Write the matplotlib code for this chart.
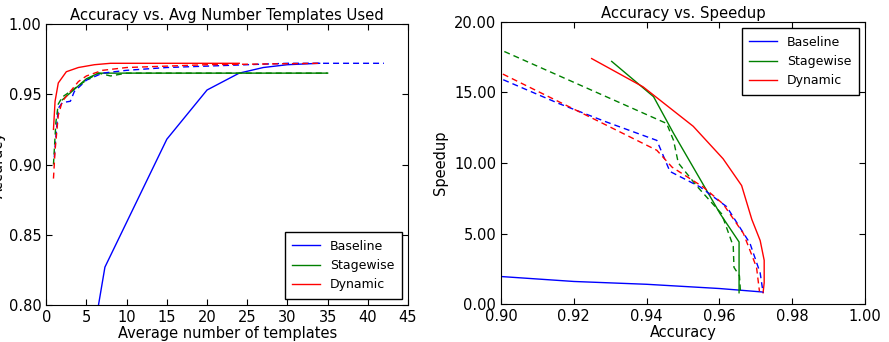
import matplotlib
matplotlib.use("Agg")
import matplotlib.pyplot as plt
from matplotlib.ticker import FormatStrFormatter, MultipleLocator

# Linke Grafik: Genauigkeit gegen Anzahl Templates
base_x = [6.5, 7.3, 15, 20, 24, 27, 30, 34]
base_y = [0.800, 0.827, 0.918, 0.953, 0.965, 0.969, 0.971, 0.972]
base_dx = [1.0, 1.2, 1.5, 2, 3, 3.5, 5, 7, 10, 15, 20, 30, 42]
base_dy = [0.905, 0.920, 0.940, 0.944, 0.945, 0.952, 0.960, 0.965, 0.967, 0.969, 0.970, 0.972, 0.972]
stage_x = [2, 3, 4, 5, 6.5, 35]
stage_y = [0.946, 0.951, 0.956, 0.961, 0.965, 0.965]
stage_dx = [0.9, 1.2, 1.5, 2, 3, 5, 6.5, 8, 10, 35]
stage_dy = [0.900, 0.930, 0.943, 0.948, 0.952, 0.960, 0.965, 0.963, 0.965, 0.965]
dyn_x = [0.9, 1.1, 1.5, 2.5, 4, 6, 8, 24]
dyn_y = [0.925, 0.945, 0.958, 0.966, 0.969, 0.971, 0.972, 0.972]
dyn_dx = [0.9, 1.1, 1.5, 2, 3, 4, 5, 7, 10, 20, 34]
dyn_dy = [0.890, 0.910, 0.935, 0.945, 0.952, 0.959, 0.963, 0.967, 0.969, 0.971, 0.972]

# Rechte Grafik: Speedup gegen Genauigkeit
sp_base_acc = [0.900, 0.920, 0.940, 0.960, 0.972]
sp_base = [1.95, 1.6, 1.4, 1.1, 0.85]
sp_base_dacc = [0.9006, 0.916, 0.929, 0.9428, 0.9464, 0.9547, 0.962, 0.9684, 0.9712, 0.972]
sp_base_d = [15.9, 14.2, 12.9, 11.6, 9.4, 8.3, 6.9, 4.3, 2.2, 0.8]
sp_stage_acc = [0.9304, 0.9419, 0.9474, 0.9602, 0.9654, 0.9654]
sp_stage = [17.2, 14.7, 12.1, 6.4, 4.4, 0.8]
sp_stage_dacc = [0.9009, 0.9455, 0.9474, 0.9487, 0.954, 0.9606, 0.9638, 0.964, 0.9655, 0.9658]
sp_stage_d = [17.9, 12.8, 11.6, 10.0, 8.3, 6.4, 4.1, 2.6, 2.0, 0.8]
sp_dyn_acc = [0.9249, 0.939, 0.9528, 0.961, 0.9661, 0.9689, 0.9712, 0.9723, 0.9723, 0.972]
sp_dyn = [17.4, 15.4, 12.6, 10.3, 8.4, 6.0, 4.5, 3.1, 1.5, 0.8]
sp_dyn_dacc = [0.9005, 0.928, 0.9428, 0.947, 0.9555, 0.961, 0.9666, 0.9702, 0.971]
sp_dyn_d = [16.3, 12.8, 10.9, 9.7, 8.3, 7.1, 5.0, 2.6, 0.9]

names = ['Baseline', 'Stagewise', 'Dynamic']
colors = ['b', 'g', 'r']

plt.rcParams['font.size'] = 10.5

fig = plt.figure(figsize=(8.89, 3.42), dpi=100)
ax1 = fig.add_axes([0.052, 0.108, 0.407, 0.822])
ax2 = fig.add_axes([0.5636, 0.111, 0.4094, 0.825])

lw = 1.0
dash = (4.3, 2.9)
ax1.plot(base_x, base_y, color=colors[0], lw=lw, label=names[0])
ax1.plot(stage_x, stage_y, color=colors[1], lw=lw, label=names[1])
ax1.plot(dyn_x, dyn_y, color=colors[2], lw=lw, label=names[2])
ax1.plot(base_dx, base_dy, color=colors[0], lw=lw, ls='--', dashes=dash)
ax1.plot(stage_dx, stage_dy, color=colors[1], lw=lw, ls='--', dashes=dash)
ax1.plot(dyn_dx, dyn_dy, color=colors[2], lw=lw, ls='--', dashes=dash)

ax1.set_xlim(0, 45)
ax1.set_ylim(0.80, 1.00)
ax1.xaxis.set_major_locator(MultipleLocator(5))
ax1.yaxis.set_major_locator(MultipleLocator(0.05))
ax1.yaxis.set_major_formatter(FormatStrFormatter('%.2f'))
ax1.set_title('Accuracy vs. Avg Number Templates Used', fontsize=10.7, pad=3)
ax1.set_xlabel('Average number of templates', labelpad=1)
ax1.set_ylabel('Accuracy', labelpad=2)
ax1.legend(loc='lower right', fontsize=9, fancybox=False, edgecolor='k',
           handlelength=2.2, borderpad=0.6, framealpha=1)

ax2.plot(sp_base_acc, sp_base, color=colors[0], lw=lw, label=names[0])
ax2.plot(sp_stage_acc, sp_stage, color=colors[1], lw=lw, label=names[1])
ax2.plot(sp_dyn_acc, sp_dyn, color=colors[2], lw=lw, label=names[2])
ax2.plot(sp_base_dacc, sp_base_d, color=colors[0], lw=lw, ls='--', dashes=dash)
ax2.plot(sp_stage_dacc, sp_stage_d, color=colors[1], lw=lw, ls='--', dashes=dash)
ax2.plot(sp_dyn_dacc, sp_dyn_d, color=colors[2], lw=lw, ls='--', dashes=dash)

ax2.set_xlim(0.90, 1.00)
ax2.set_ylim(0, 20)
ax2.xaxis.set_major_locator(MultipleLocator(0.02))
ax2.yaxis.set_major_locator(MultipleLocator(5))
ax2.xaxis.set_major_formatter(FormatStrFormatter('%.2f'))
ax2.yaxis.set_major_formatter(FormatStrFormatter('%.2f'))
ax2.set_title('Accuracy vs. Speedup', fontsize=10.7, pad=3)
ax2.set_xlabel('Accuracy', labelpad=1)
ax2.set_ylabel('Speedup', labelpad=4)
ax2.legend(loc='upper right', fontsize=9, fancybox=False, edgecolor='k',
           handlelength=2.2, borderpad=0.6, framealpha=1)

for ax in (ax1, ax2):
    ax.tick_params(direction='in', top=True, right=True, length=4, labelsize=10.5)

fig.savefig('out.png', dpi=100)
